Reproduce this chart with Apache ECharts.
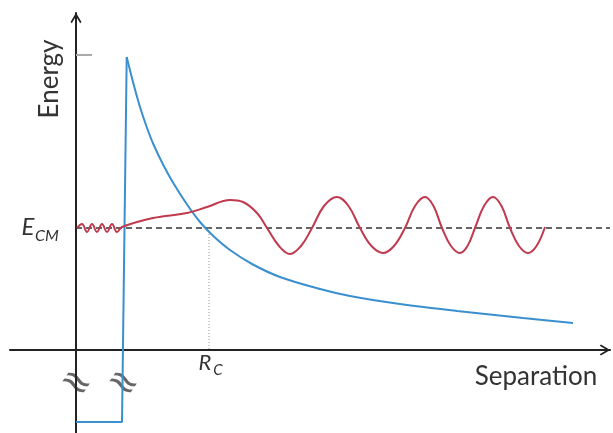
<!DOCTYPE html>
<html><head><meta charset="utf-8">
<script src="https://cdn.jsdelivr.net/npm/echarts@6/dist/echarts.min.js"></script>
<style>html,body{margin:0;padding:0;background:#fff}#c{width:613px;height:433px}</style>
</head><body><div id="c"></div>
<script>
// Nuclear well + Coulomb barrier (arbitrary units)
const wellX = [0, 4.6, 5.07];
const wellY = [-7.2, -7.2, 29.3];
const barrierX = [5.07, 5.73, 6.4, 7.07, 7.73, 8.73, 9.73, 11.07, 12.4, 13.73, 15.4, 17.6, 20.4, 24.4, 27.4, 32.4, 38.1, 44.7, 49.7];
const barrierY = [29.3, 26.7, 24.3, 22.3, 20.6, 18.5, 16.7, 14.6, 12.8, 11.4, 10.0, 8.6, 7.3, 6.1, 5.4, 4.6, 3.9, 3.2, 2.7];
// wave function
const waveX = [0.1, 0.6, 1.1, 1.6, 2.1, 2.6, 3.1, 3.6, 4.1, 4.6, 7.7, 11.1, 13.1, 15.4, 16.7, 18.1, 19.1, 20.3, 21.4, 22.5, 23.6, 24.8, 26.1, 27.25, 28.4, 29.55, 30.7, 31.8, 32.9, 33.9, 34.9, 35.75, 36.6, 37.5, 38.4, 39.15, 39.9, 40.8, 41.7, 42.55, 43.4, 44.3, 45.2, 46.05, 46.9];
const waveY = [12.2, 12.6, 11.8, 12.6, 11.8, 12.6, 11.8, 12.6, 11.8, 12.3, 13.2, 13.7, 14.3, 15.0, 14.8, 13.7, 12.2, 10.4, 9.6, 10.4, 12.2, 14.4, 15.3, 14.4, 12.2, 10.4, 9.7, 10.4, 12.2, 14.4, 15.3, 14.4, 12.2, 10.4, 9.7, 10.4, 12.2, 14.4, 15.3, 14.4, 12.2, 10.4, 9.7, 10.4, 12.3];
const eCM = 12.2;
const rC = 13.3;
const peakE = 29.5;
const xRange = [-6.6, 53.4];
const yRange = [-8.3, 33.7];

const zip = (xs, ys) => xs.map((x, i) => [x, ys[i]]);
const arrow = 'path://M5,0L10,8.5L8.8,9.6L5,3.2L1.2,9.6L0,8.5Z';
const blue = '#3a8fcf', red = '#c0394e', ink = '#222';

const chart = echarts.init(document.getElementById('c'), null, {renderer: 'canvas'});
chart.setOption({
  animation: false,
  backgroundColor: '#fff',
  grid: {left: 10, right: 3, top: 13, bottom: 0},
  xAxis: {
    type: 'value', min: xRange[0], max: xRange[1],
    axisLine: {onZero: true, lineStyle: {color: ink, width: 2}, symbol: ['none', arrow], symbolSize: [11, 11], symbolOffset: [0, -5]},
    axisTick: {show: false}, axisLabel: {show: false}, splitLine: {show: false}
  },
  yAxis: {
    type: 'value', min: yRange[0], max: yRange[1],
    axisLine: {onZero: true, lineStyle: {color: ink, width: 2}, symbol: ['none', arrow], symbolSize: [11, 11], symbolOffset: [0, -5]},
    axisTick: {show: false}, axisLabel: {show: false}, splitLine: {show: false}
  },
  series: [
    {type: 'line', data: [[0, eCM], [xRange[1], eCM]], symbol: 'none', silent: true,
     lineStyle: {color: '#333', width: 1.6, type: [6, 4]}, z: 1},
    {type: 'line', data: [[rC, eCM], [rC, 0]], symbol: 'none', silent: true,
     lineStyle: {color: '#999', width: 1, type: [1, 2]}, z: 1},
    {type: 'line', data: [[0, peakE], [1.6, peakE]], symbol: 'none', silent: true,
     lineStyle: {color: '#aaa', width: 2}, z: 1},
    {type: 'line', data: zip(wellX, wellY), symbol: 'none',
     lineStyle: {color: blue, width: 2}, z: 3},
    {type: 'line', data: zip(barrierX, barrierY), symbol: 'none', smooth: 0.35,
     lineStyle: {color: blue, width: 2}, z: 3},
    {type: 'line', data: zip(waveX, waveY), symbol: 'none', smooth: 0.4,
     lineStyle: {color: red, width: 2}, z: 4}
  ],
  graphic: [
    {type: 'text', x: 50, y: 79, rotation: Math.PI / 2,
     style: {text: 'Energy', font: '26px Lato', fill: '#333', align: 'center', verticalAlign: 'middle'}},
    {type: 'text', x: 536, y: 377,
     style: {text: 'Separation', font: '26px Lato', fill: '#333', align: 'center', verticalAlign: 'middle'}},
    {type: 'text', x: 28, y: 227,
     style: {text: 'E', font: 'italic 24px Lato', fill: '#333', align: 'center', verticalAlign: 'middle'}},
    {type: 'text', x: 47, y: 236,
     style: {text: 'CM', font: 'italic 16px Lato', fill: '#333', align: 'center', verticalAlign: 'middle'}},
    {type: 'text', x: 205, y: 363,
     style: {text: 'R', font: 'italic 22px Lato', fill: '#333', align: 'center', verticalAlign: 'middle'}},
    {type: 'text', x: 218, y: 370,
     style: {text: 'C', font: 'italic 15px Lato', fill: '#333', align: 'center', verticalAlign: 'middle'}},
    {type: 'text', x: 75, y: 384, rotation: -0.6,
     style: {text: '≈', font: '38px "DejaVu Sans"', fill: '#666', align: 'center', verticalAlign: 'middle'}},
    {type: 'text', x: 122, y: 384, rotation: -0.6,
     style: {text: '≈', font: '38px "DejaVu Sans"', fill: '#666', align: 'center', verticalAlign: 'middle'}}
  ]
});
</script></body></html>
